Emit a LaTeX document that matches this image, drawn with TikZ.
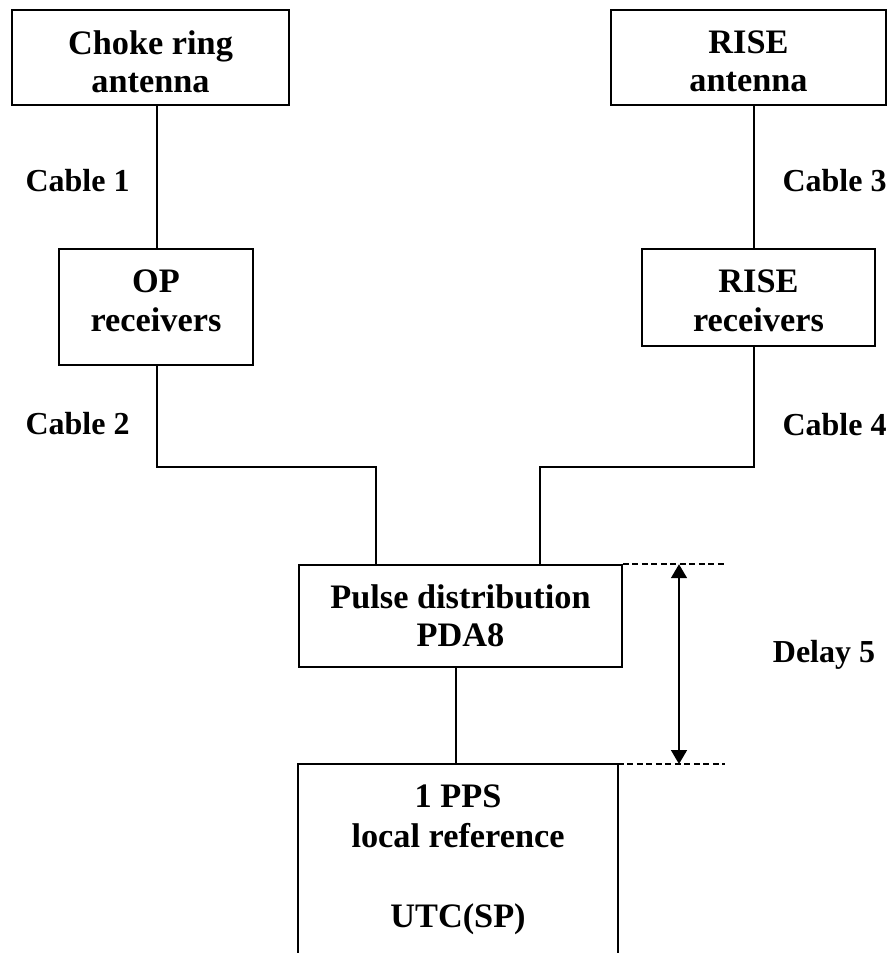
\documentclass[tikz,border=0pt]{standalone}
\usepackage{fontspec}
\setmainfont{Liberation Serif}
\usetikzlibrary{arrows.meta}
\begin{document}
\begin{tikzpicture}[x=1pt,y=-1pt,line width=1.6pt,
  frame/.style={draw,inner sep=0pt},
  txt/.style={inner sep=0pt,align=center,font=\fontsize{34.3}{38.5}\selectfont\bfseries},
  lab/.style={inner sep=0pt,font=\fontsize{32}{36}\selectfont\bfseries},
  dimline/.style={dash pattern=on 6pt off 3.5pt},
  dimarrow/.style={{Triangle[width=16pt,length=14pt]}-{Triangle[width=16pt,length=14pt]}}]
\useasboundingbox (0,0) rectangle (891,953);
% boxes
\node[frame,minimum width=277pt,minimum height=95pt] (choke) at (150.5,57.5) {};
\node[txt] (choket) at ([yshift=-4.5pt]choke.center) {Choke ring\\antenna};
\node[frame,minimum width=275pt,minimum height=95pt] (riseant) at (748.5,57.5) {};
\node[txt] (riseantt) at ([yshift=-4pt]riseant.center) {RISE\\antenna};
\node[frame,minimum width=194pt,minimum height=116pt] (op) at (156,307) {};
\node[txt] (opt) at ([yshift=6pt]op.center) {OP\\receivers};
\node[frame,minimum width=233pt,minimum height=97pt] (riserx) at (758.5,297.5) {};
\node[txt] (riserxt) at ([yshift=-3.5pt]riserx.center) {RISE\\receivers};
\node[frame,minimum width=323pt,minimum height=102pt] (pulse) at (460.5,616) {};
\node[txt] (pulset) at (pulse.center) {Pulse distribution\\PDA8};
\node[inner sep=0pt,minimum width=318pt,minimum height=195pt,anchor=north] (ref) at (458,764) {};
\draw (ref.south west) -- (ref.north west) -- (ref.north east) -- (ref.south east);
\node[txt,anchor=north,font=\fontsize{34.3}{40}\selectfont\bfseries] (reftext) at ([yshift=-20pt]ref.north) {1 PPS\\local reference\\[40pt]UTC(SP)};
% labels
\node[lab] (c1) at (77.5,181) {Cable 1};
\node[lab] (c2) at (77.5,424) {Cable 2};
\node[lab] (c3) at (834.5,181) {Cable 3};
\node[lab] (c4) at (834.5,425) {Cable 4};
\node[lab] (d5) at (824,655) {Delay 5};
% connector coordinates
\coordinate (lx) at (157,0);
\coordinate (rx) at (754,0);
\coordinate (jl) at (376,467);
\coordinate (jr) at (540,467);
\coordinate (mx) at (456,0);
\coordinate (dimx) at (679,0);
\coordinate (dashend) at (725,0);
% connectors
\draw (choke.south -| lx) -- (op.north -| lx);
\draw (riseant.south -| rx) -- (riserx.north -| rx);
\draw (op.south -| lx) |- (jl) -- (jl |- pulse.north);
\draw (riserx.south -| rx) |- (jr) -- (jr |- pulse.north);
\draw (pulse.south -| mx) -- (ref.north -| mx);
% delay dimension
\draw[dimline] (pulse.north east) -- (pulse.north -| dashend);
\draw[dimline] (ref.north east) -- (ref.north -| dashend);
\draw[dimarrow] (pulse.north -| dimx) -- (ref.north -| dimx);
\end{tikzpicture}
\end{document}
